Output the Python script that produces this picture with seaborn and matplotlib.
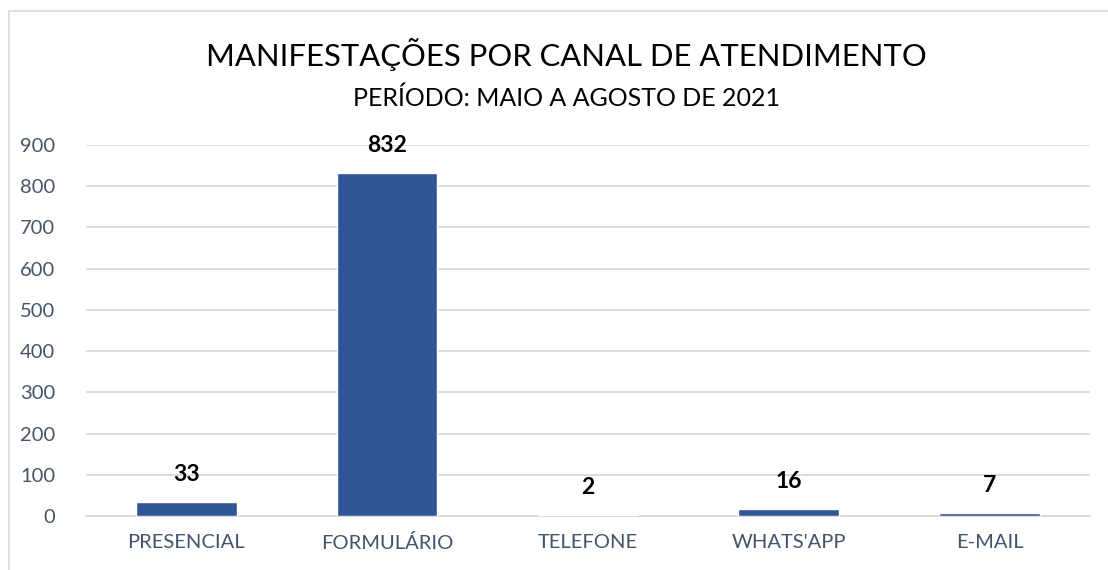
import seaborn as sns
import matplotlib.pyplot as plt
from matplotlib.patches import Rectangle

# --- data ---
canais = ["PRESENCIAL", "FORMULÁRIO", "TELEFONE", "WHATS'APP", "E-MAIL"]
manifestacoes = [33, 832, 2, 16, 7]
y_ticks = [0, 100, 200, 300, 400, 500, 600, 700, 800, 900]

sns.set_theme(style="white")
plt.rcParams["font.family"] = ["Lato", "DejaVu Sans"]

fig = plt.figure(figsize=(11.08, 5.70), dpi=100)
ax = fig.add_axes([0.0776, 0.0947, 0.906, 0.651])

sns.barplot(x=canais, y=manifestacoes, color="#2F5597", width=0.5,
            saturation=1, ax=ax, zorder=3)

ax.set_ylim(0, 900)
ax.set_yticks(y_ticks)
ax.set_xlim(-0.5, len(canais) - 0.5)
ax.grid(axis="y", color="#D9D9D9", linewidth=1.3, zorder=0)
for side in ["top", "right", "left"]:
    ax.spines[side].set_visible(False)
ax.spines["bottom"].set_color("#D9D9D9")
ax.spines["bottom"].set_linewidth(1.3)
ax.tick_params(axis="both", length=0, labelsize=14.5, labelcolor="#44546A")
ax.tick_params(axis="y", pad=22)
ax.tick_params(axis="x", pad=13)
ax.set_xlabel("")
ax.set_ylabel("")

# rótulos de dados
for i, v in enumerate(manifestacoes):
    ax.annotate(str(v), (i, v), xytext=(0, 20), textcoords="offset points",
                ha="center", va="center", fontsize=16.5, fontweight="bold",
                color="black")

fig.text(0.511, 0.905, "MANIFESTAÇÕES POR CANAL DE ATENDIMENTO",
         ha="center", va="center", fontsize=22.3, color="black")
fig.text(0.511, 0.828, "PERÍODO: MAIO A AGOSTO DE 2021",
         ha="center", va="center", fontsize=18, color="black")

# moldura do gráfico
fig.patches.append(Rectangle((9 / 1108, -0.01), 1.1, 1 - 11 / 570 + 0.01,
                             transform=fig.transFigure, fill=False,
                             edgecolor="#D9D9D9", linewidth=1.2))

fig.savefig("out.png", dpi=100, facecolor="white")
